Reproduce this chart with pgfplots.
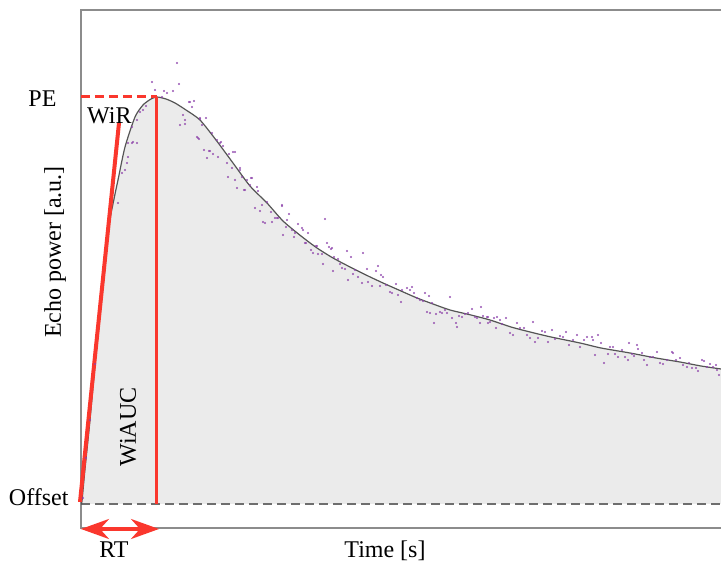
\documentclass[border=0pt]{standalone}
\usepackage{pgfplots}
\pgfplotsset{compat=1.18}
\usepackage{fontspec}
\setmainfont{Liberation Serif}
\usetikzlibrary{arrows.meta}
\definecolor{rline}{RGB}{250,55,45}
\definecolor{pts}{RGB}{140,65,170}
\definecolor{fillg}{RGB}{235,235,235}
\definecolor{frame}{RGB}{140,140,140}
\definecolor{curve}{RGB}{85,85,85}
\tikzset{lbl/.style={font=\fontsize{24}{28}\selectfont}}
\begin{document}
\begin{tikzpicture}
\path[use as bounding box] (-81pt,-39pt) rectangle (640pt,528pt);
\begin{axis}[
  at={(0pt,0pt)}, anchor=south west,
  width=640pt, height=518pt, scale only axis,
  xmin=0, xmax=640, ymin=-24, ymax=494,
  hide axis, clip=false,
]
% frame
\draw[frame, line width=1.3pt] (rel axis cs:1,1) -- (rel axis cs:0,1) -- (rel axis cs:0,0) -- (rel axis cs:1,0);
% fitted curve (fill)
\addplot[fill=fillg, draw=none] table {
x y
0 0
1 3
4 35
9 84
15 150
22 217
28 278
33 305
37 324
44 357
54 387
62 399
70 405
76 407
85 405
94 401
105 394
119 384
135 364
152 341
169 318
186 301
202 283
220 268
236 256
252 246
269 237
285 229
302 221
320 213
336 206
352 200
369 194
390 189
409 184
430 177
449 172
470 167
499 161
520 156
549 151
575 146
599 142
620 138
640 135
} \closedcycle;
% offset line
\addplot[draw={rgb,255:red,110;green,110;blue,110}, line width=1.2pt, dash pattern=on 9pt off 5pt] coordinates {(0,0) (640,0)};
% fitted curve (line)
\addplot[curve, line width=1.2pt, smooth, tension=0.4] table {
x y
0 0
1 3
4 35
9 84
15 150
22 217
28 278
33 305
37 324
44 357
54 387
62 399
70 405
76 407
85 405
94 401
105 394
119 384
135 364
152 341
169 318
186 301
202 283
220 268
236 256
252 246
269 237
285 229
302 221
320 213
336 206
352 200
369 194
390 189
409 184
430 177
449 172
470 167
499 161
520 156
549 151
575 146
599 142
620 138
640 135
};
% measured echo power
\addplot[pts, only marks, mark=*, mark size=1.2pt, mark options={pts, draw opacity=0, fill opacity=0.9}] table {
x y
2 6
5 46
9 84
14 140
37 301
41 331
44 334
46 341
47 347
47 361
51 361
51 377
52 362
56 361
56 384
59 392
62 394
65 398
71 422
74 414
81 407
83 413
86 411
92 413
96 441
98 420
99 379
102 389
104 380
104 384
108 402
109 402
111 397
113 403
116 367
117 366
118 365
119 385
119 386
121 379
123 354
125 386
126 346
128 353
129 353
131 371
132 350
136 364
137 347
139 361
140 362
142 358
146 341
147 327
148 350
151 336
152 352
154 324
154 352
156 316
159 334
159 336
161 327
163 314
164 314
166 324
169 319
170 326
171 326
174 296
176 317
177 313
179 293
181 299
182 282
184 281
186 302
190 292
191 282
194 286
196 286
197 286
201 298
201 299
202 269
205 277
206 284
208 290
211 274
213 267
214 271
217 280
221 276
222 274
224 261
225 261
227 271
230 254
232 251
235 258
236 258
237 250
241 250
242 240
244 285
246 261
248 257
250 255
251 256
252 233
253 247
257 245
259 240
261 236
264 235
266 253
267 224
270 247
272 230
274 234
277 227
281 221
282 251
286 235
287 222
291 218
295 233
297 238
299 218
300 229
302 227
305 219
309 212
311 211
315 220
317 209
320 202
321 214
326 216
329 214
331 217
333 211
336 206
339 204
342 203
344 211
346 192
348 208
349 191
351 201
353 181
355 190
359 192
361 191
364 194
366 191
369 207
371 186
375 181
376 177
378 188
381 187
384 190
387 191
391 195
394 187
396 186
399 181
400 197
402 188
406 187
407 181
407 187
409 182
413 186
415 176
416 187
419 184
421 180
425 186
429 171
432 169
436 181
439 176
443 176
446 169
449 166
452 182
454 162
457 166
461 173
464 172
467 162
471 174
474 165
479 168
482 167
485 172
488 159
492 164
496 169
499 157
503 164
506 167
511 167
512 164
514 149
517 169
520 161
523 141
527 150
529 157
532 157
534 150
537 147
541 154
544 147
547 144
548 161
551 150
553 148
556 159
557 155
561 151
563 144
566 139
569 147
572 147
576 152
579 141
582 140
586 144
591 152
592 151
595 144
599 146
602 139
606 137
608 141
611 136
615 136
617 133
621 144
623 143
626 137
629 140
632 137
635 139
636 134
638 129
};
% red annotations
\addplot[rline, line width=3pt, dash pattern=on 9pt off 5pt] coordinates {(0,407) (76,407)};
\addplot[rline, line width=3pt] coordinates {(76,0) (76,407)};
\addplot[rline, line width=4pt] coordinates {(-1,2) (38,381)};
\draw[rline, line width=3.5pt, {Stealth[length=28pt,width=20pt,inset=9pt]}-{Stealth[length=28pt,width=20pt,inset=9pt]}] (axis cs:0,-25) -- (axis cs:78,-25);
% labels
\node[lbl, anchor=base east] at (axis cs:-21,397) {PE};
\node[lbl, anchor=base east] at (axis cs:-9,-2) {Offset};
\node[lbl, anchor=base west, inner sep=0pt] at (axis cs:6,380) {WiR};
\node[lbl, rotate=90] at (axis cs:47,77) {WiAUC};
\node[lbl, rotate=90] at (axis cs:-26,252) {Echo power [a.u.]};
\node[lbl, anchor=base] at (axis cs:33,-54) {RT};
\node[lbl, anchor=base] at (axis cs:304,-54) {Time [s]};
\end{axis}
\end{tikzpicture}
\end{document}
